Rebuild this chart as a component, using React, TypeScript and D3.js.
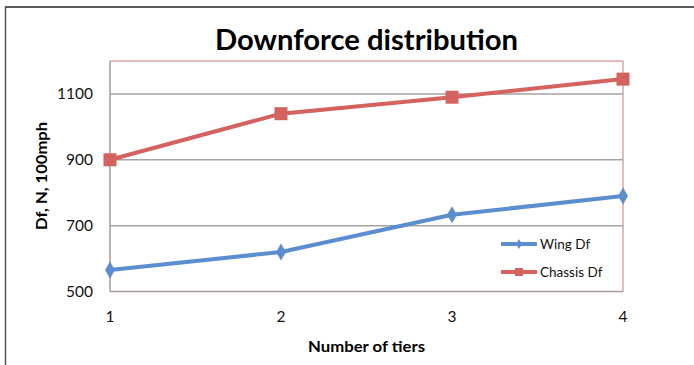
import React from "react";
import * as d3 from "d3";

const tiers = [1, 2, 3, 4];
const wingDf = [565, 620, 733, 790];
const chassisDf = [900, 1040, 1090, 1145];
const yTicks = [500, 700, 900, 1100];
const seriesNames = ["Wing Df", "Chassis Df"];
const titleText = "Downforce distribution";
const xTitle = "Number of tiers";
const yTitle = "Df, N, 100mph";

const W = 694;
const H = 365;
const left = 110;
const right = 623;
const top = 61;
const bottom = 291.5;
const blue = "#5b8ecf";
const red = "#d4625e";
const font = "Lato, 'Open Sans', sans-serif";

export default function App() {
  const x = d3.scaleLinear().domain([1, 4]).range([left, right]);
  const y = d3.scaleLinear().domain([500, 1200]).range([bottom, top]);
  const line = d3
    .line<number>()
    .x((_, i) => x(tiers[i]))
    .y((d) => y(d));
  const diamond = d3.symbol().type(d3.symbolDiamond).size(85);
  const diamondSmall = d3.symbol().type(d3.symbolDiamond).size(30);
  const sq = 13;

  return (
    <svg
      width={W}
      height={H}
      style={{ position: "absolute", left: 0, top: 0, background: "#fff" }}
      fontFamily={font}
    >
      <rect x={0} y={0} width={W} height={H} fill="#fff" />
      {/* outer frame */}
      <line x1={5} x2={W} y1={7} y2={7} stroke="#222" strokeWidth={1.5} />
      <line x1={5.5} x2={5.5} y1={7} y2={H} stroke="#555" strokeWidth={1.5} />

      <text x={366.5} y={50} textAnchor="middle" fontSize={29} fontWeight="bold" fill="#000"
        textLength={303} lengthAdjust="spacingAndGlyphs">
        {titleText}
      </text>

      {/* plot border top/right */}
      <line x1={left} x2={right} y1={top} y2={top} stroke="#dba5a5" strokeWidth={1.5} />
      <line x1={right} x2={right} y1={top} y2={bottom} stroke="#dba5a5" strokeWidth={1.5} />

      {/* gridlines */}
      {yTicks.slice(1).map((t) => (
        <line key={t} x1={left} x2={right} y1={y(t)} y2={y(t)} stroke="#a3a3a3" strokeWidth={1.5} />
      ))}
      {/* axes */}
      <line x1={left} x2={left} y1={top} y2={bottom} stroke="#a89a9a" strokeWidth={1.5} />
      <line x1={left} x2={right} y1={bottom} y2={bottom} stroke="#a89a9a" strokeWidth={1.5} />

      {yTicks.map((t) => (
        <text key={t} x={93} y={y(t)} dy="0.35em" textAnchor="end" fontSize={15.5} fill="#111">
          {t}
        </text>
      ))}
      {tiers.map((t) => (
        <text key={t} x={x(t)} y={322} textAnchor="middle" fontSize={15.5} fill="#111">
          {t}
        </text>
      ))}

      <text x={366.5} y={352} textAnchor="middle" fontSize={15} fontWeight="bold" fill="#000"
        textLength={117} lengthAdjust="spacingAndGlyphs">
        {xTitle}
      </text>
      <text
        transform={`translate(47,176) rotate(-90)`}
        textAnchor="middle"
        fontSize={15}
        fontWeight="bold"
        fill="#000"
        textLength={108}
        lengthAdjust="spacingAndGlyphs"
      >
        {yTitle}
      </text>

      {/* series */}
      <path d={line(wingDf) || ""} fill="none" stroke={blue} strokeWidth={4} strokeLinejoin="round" />
      <path d={line(chassisDf) || ""} fill="none" stroke={red} strokeWidth={4} strokeLinejoin="round" />
      {wingDf.map((v, i) => (
        <path key={i} d={diamond() || ""} transform={`translate(${x(tiers[i])},${y(v)})`} fill={blue} />
      ))}
      {chassisDf.map((v, i) => (
        <rect key={i} x={x(tiers[i]) - sq / 2} y={y(v) - sq / 2} width={sq} height={sq} fill={red} />
      ))}

      {/* legend */}
      {seriesNames.map((n, i) => {
        const ly = 244 + i * 28;
        const c = i === 0 ? blue : red;
        return (
          <g key={n}>
            <line x1={501} x2={537} y1={ly} y2={ly} stroke={c} strokeWidth={4} />
            {i === 0 ? (
              <path d={diamondSmall() || ""} transform={`translate(519,${ly})`} fill={c} />
            ) : (
              <rect x={515} y={ly - 4} width={8} height={8} fill={c} />
            )}
            <text x={540} y={ly} dy="0.35em" fontSize={13.5} fill="#111">
              {n}
            </text>
          </g>
        );
      })}
    </svg>
  );
}
